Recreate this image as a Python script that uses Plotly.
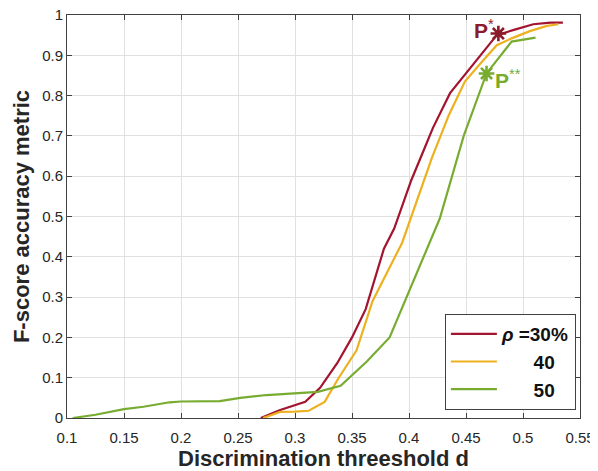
import plotly.graph_objects as go

# ---- data ----
x30 = [0.270, 0.287, 0.309, 0.322, 0.337, 0.350, 0.362, 0.378, 0.387, 0.394, 0.402, 0.413,
       0.421, 0.436, 0.451, 0.464, 0.477, 0.492, 0.509, 0.524, 0.535]
y30 = [0.000, 0.020, 0.040, 0.075, 0.136, 0.200, 0.270, 0.420, 0.470, 0.525, 0.590, 0.665,
       0.720, 0.806, 0.859, 0.905, 0.950, 0.963, 0.977, 0.981, 0.981]

x40 = [0.272, 0.287, 0.300, 0.312, 0.326, 0.338, 0.354, 0.368, 0.394, 0.403, 0.420, 0.435,
       0.449, 0.464, 0.477, 0.490, 0.506, 0.521, 0.531]
y40 = [0.000, 0.015, 0.016, 0.018, 0.040, 0.098, 0.168, 0.290, 0.435, 0.508, 0.645, 0.752,
       0.835, 0.884, 0.925, 0.942, 0.960, 0.973, 0.977]

x50 = [0.105, 0.125, 0.150, 0.167, 0.190, 0.200, 0.234, 0.252, 0.275, 0.300, 0.320, 0.340,
       0.363, 0.383, 0.401, 0.427, 0.448, 0.468, 0.490, 0.511]
y50 = [0.000, 0.008, 0.022, 0.028, 0.039, 0.041, 0.042, 0.050, 0.057, 0.061, 0.065, 0.080,
       0.140, 0.200, 0.320, 0.495, 0.700, 0.855, 0.934, 0.944]

p1 = (0.4784, 0.954)   # P*
p2 = (0.468, 0.855)    # P**

NB = "\u00a0"
series_names = ["<i>ρ</i> =30%", NB * 6 + "40", NB * 6 + "50"]
colors = ["#A2142F", "#EDB120", "#77AC30"]

x_ticks = [0.1, 0.15, 0.2, 0.25, 0.3, 0.35, 0.4, 0.45, 0.5, 0.55]
x_labels = ["0.1", "0.15", "0.2", "0.25", "0.3", "0.35", "0.4", "0.45", "0.5", "0.55"]
y_ticks = [0, 0.1, 0.2, 0.3, 0.4, 0.5, 0.6, 0.7, 0.8, 0.9, 1.0]
y_labels = ["0", "0.1", "0.2", "0.3", "0.4", "0.5", "0.6", "0.7", "0.8", "0.9", "1"]

FONT = "Liberation Sans, Arial"

fig = go.Figure()
for xs, ys, nm, c in zip([x30, x40, x50], [y30, y40, y50], series_names, colors):
    fig.add_trace(go.Scatter(x=xs, y=ys, mode="lines", name=nm,
                             line=dict(color=c, width=2.2)))

fig.add_trace(go.Scatter(x=[p1[0]], y=[p1[1]], mode="markers", showlegend=False,
                         marker=dict(symbol="asterisk-open", size=13, color="#8B1A2B",
                                     line=dict(color="#8B1A2B", width=2.6))))
fig.add_trace(go.Scatter(x=[p2[0]], y=[p2[1]], mode="markers", showlegend=False,
                         marker=dict(symbol="asterisk-open", size=13, color="#77AC30",
                                     line=dict(color="#77AC30", width=2.6))))

fig.add_annotation(x=p1[0], y=p1[1], text="<b>P</b><sup>*</sup>", showarrow=False,
                   xanchor="right", yanchor="middle", xshift=-2, yshift=5,
                   font=dict(family=FONT, size=21, color="#8B1A2B"))
fig.add_annotation(x=p2[0], y=p2[1], text="<b>P</b><sup>**</sup>", showarrow=False,
                   xanchor="left", yanchor="middle", xshift=6, yshift=-6,
                   font=dict(family=FONT, size=21, color="#77AC30"))

axis_common = dict(showline=True, linecolor="#404040", linewidth=1, mirror="allticks",
                   ticks="inside", ticklen=5, tickcolor="#404040", automargin=False,
                   ticklabeloverflow="allow",
                   showgrid=True, gridcolor="#E0E0E0", gridwidth=1, zeroline=False,
                   tickfont=dict(family=FONT, size=15, color="#262626"))

fig.update_xaxes(range=[0.1, 0.55], tickvals=x_ticks, ticktext=x_labels,
                 ticklabelstandoff=6,
                 title=dict(text="<b>Discrimination threeshold d</b>", standoff=13,
                            font=dict(family=FONT, size=22, color="#262626")),
                 **axis_common)
fig.update_yaxes(range=[0, 1], tickvals=y_ticks, ticktext=y_labels,
                 title=dict(text="<b>F-score accuracy metric</b>", standoff=6,
                            font=dict(family=FONT, size=22, color="#262626")),
                 **axis_common)

# the page body adds an 8px offset, so the figure is 8px smaller and shifted
fig.update_layout(
    width=590, height=463,
    margin=dict(l=59, r=18, t=7, b=53, autoexpand=False),
    plot_bgcolor="white", paper_bgcolor="white",
    legend=dict(x=0.992, y=0.02, xanchor="right", yanchor="bottom",
                bgcolor="white", bordercolor="#404040", borderwidth=1,
                itemwidth=46,
                font=dict(family=FONT, size=19, color="#111111", weight="bold"),
                tracegroupgap=0),
)

fig.write_html("out.html")
